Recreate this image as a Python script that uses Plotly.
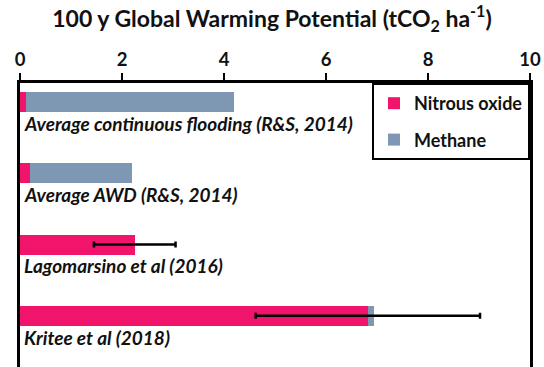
import plotly.graph_objects as go

categories = ["Average continuous flooding (R&S, 2014)", "Average AWD (R&S, 2014)",
              "Lagomarsino et al (2016)", "Kritee et al (2018)"]
nitrous_oxide = [0.12, 0.2, 2.25, 6.82]
methane = [4.08, 2.0, 0.0, 0.12]
err_center = [None, None, 2.25, 6.82]
err_value = [0, 0, 0.8, 2.2]
tick_vals = [0, 2, 4, 6, 8, 10]

pink = "#F0146A"
blue = "#7E98B4"
ypos = list(range(len(categories)))

fig = go.Figure()
fig.add_trace(go.Bar(x=nitrous_oxide, y=ypos, orientation="h", name="Nitrous oxide",
                     marker=dict(color=pink, line=dict(width=0)), width=0.28,
                     legendgroup="a"))
fig.add_trace(go.Bar(x=methane, y=ypos, orientation="h", name="Methane",
                     marker=dict(color=blue, line=dict(width=0)), width=0.28,
                     legendgroup="b"))
ex = [c for c in err_center if c is not None]
ey = [y for y, c in zip(ypos, err_center) if c is not None]
ee = [e for e, c in zip(err_value, err_center) if c is not None]
fig.add_trace(go.Scatter(x=ex, y=ey, mode="markers", marker=dict(size=0.1, color="black"),
                         error_x=dict(type="data", array=ee, color="black", thickness=2.5, width=3),
                         showlegend=False, hoverinfo="skip"))

for i, c in enumerate(categories):
    fig.add_annotation(x=0, y=i + 0.3, xref="x", yref="y", text=c, showarrow=False,
                       xanchor="left", yanchor="middle", xshift=2,
                       font=dict(family="Lato", size=19, color="#111", style="italic", weight="bold"))

fig.update_layout(
    width=544, height=367,
    margin=dict(l=20, r=14, t=83, b=0),
    barmode="stack",
    plot_bgcolor="white", paper_bgcolor="white",
    title=dict(text="100 y Global Warming Potential (tCO<sub>2</sub> ha<sup>-1</sup>)",
               x=0.5, xanchor="center", y=1 - 19 / 367, yanchor="middle",
               font=dict(family="Lato", size=23, color="#111", weight="bold")),
    legend=dict(x=1, y=1, xanchor="right", yanchor="top", bordercolor="black", borderwidth=2,
                bgcolor="white", tracegroupgap=10, itemwidth=30,
                font=dict(family="Lato", size=18, color="#111", weight="bold")),
    xaxis=dict(side="top", range=[0, 10], tickvals=tick_vals, showgrid=False, zeroline=False,
               showline=True, linecolor="black", linewidth=3, mirror=False,
               ticks="outside", ticklen=7, tickwidth=1.5, tickcolor="black",
               tickfont=dict(family="Lato", size=18.5, color="#111", weight="bold")),
    yaxis=dict(range=[3.72, -0.27], showgrid=False, zeroline=False, showticklabels=False,
               showline=True, linecolor="black", linewidth=3, mirror=True, ticks=""),
)
fig.write_html("out.html")
